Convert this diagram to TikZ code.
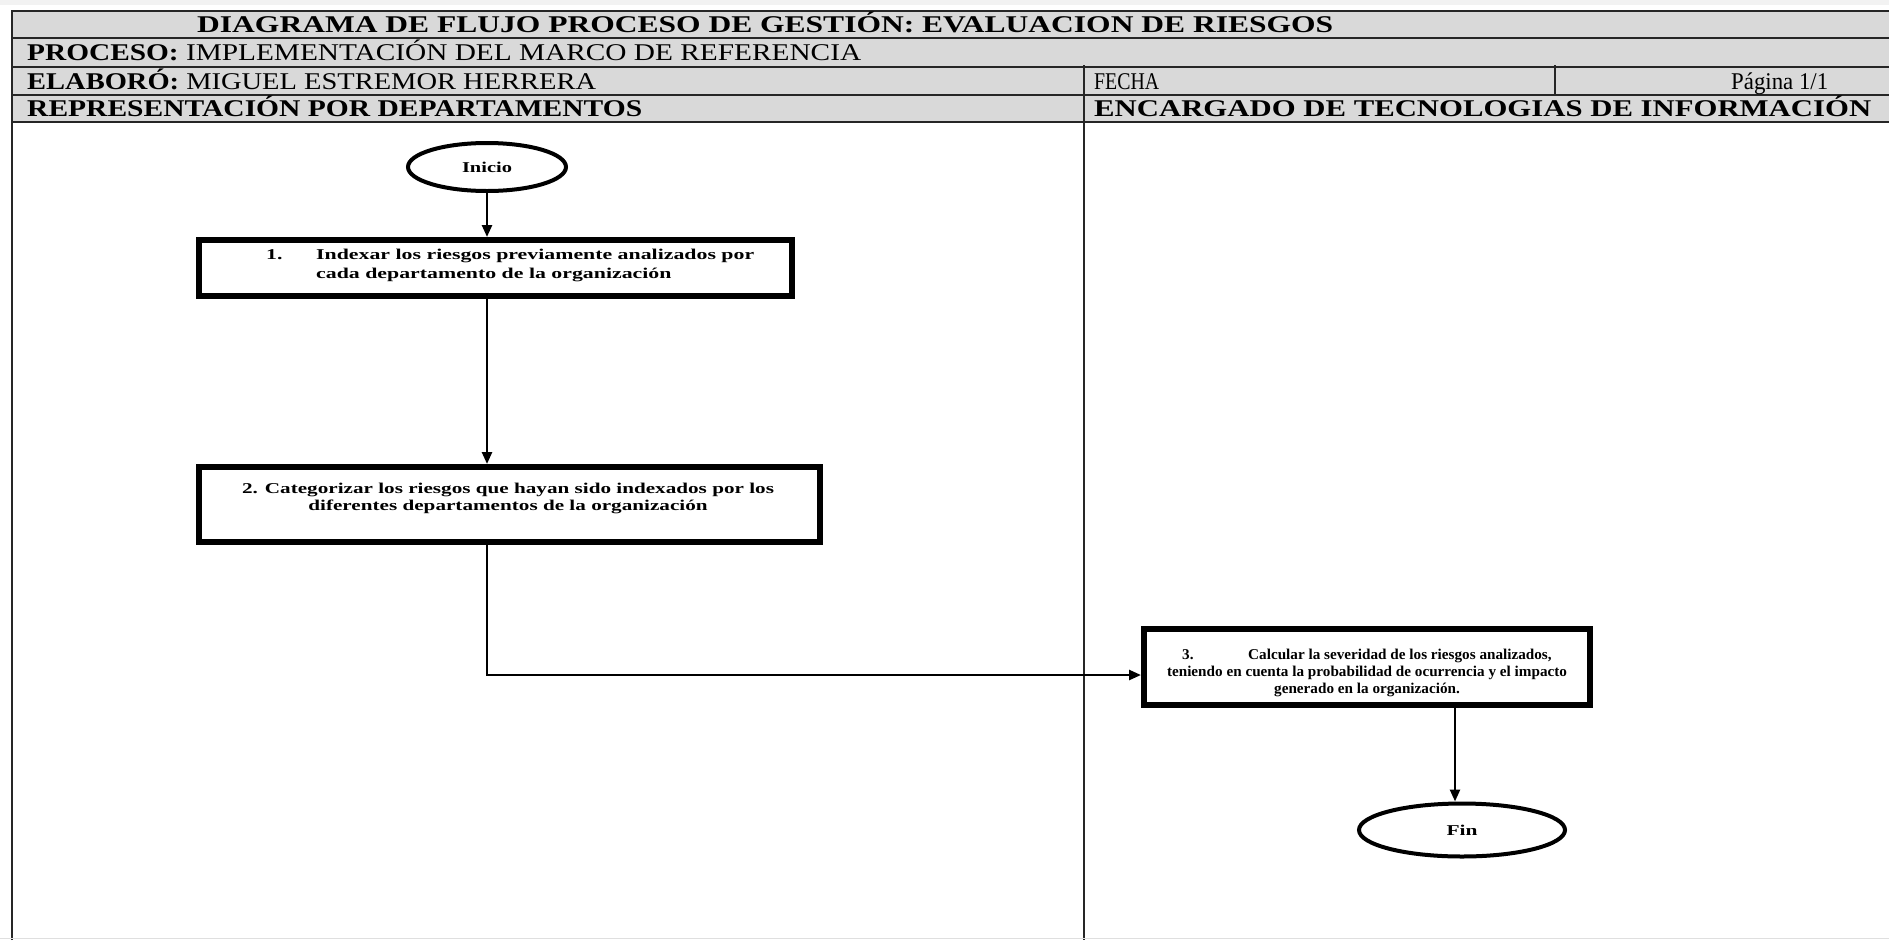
\documentclass[tikz,border=0pt]{standalone}
\usepackage{fontspec}
\usepackage{graphicx}
\setmainfont{Liberation Serif}
\usetikzlibrary{arrows.meta,shapes.geometric}
\newcommand{\fw}[2]{\resizebox{#1pt}{\height}{#2}}
\newlength{\refw}
\newcommand{\boxfont}{\fontsize{15}{18}\selectfont\bfseries}
% \setsx{macro}{target width}{reference line}
\newcommand{\setsx}[3]{\settowidth{\refw}{\boxfont #3}\pgfmathsetmacro{#1}{#2/\refw}}
\definecolor{hdrgray}{HTML}{D9D9D9}
\begin{document}
\setsx{\sxa}{438}{Indexar los riesgos previamente analizados por}%
\setsx{\sxb}{532}{2. Categorizar los riesgos que hayan sido indexados por los}%
\setsx{\sxc}{400}{teniendo en cuenta la probabilidad de ocurrencia y el impacto}%
\begin{tikzpicture}[x=1pt,y=-1pt,
  hdr/.style={inner sep=0pt, anchor=base west, font=\fontsize{24}{27}\selectfont},
  tbl/.style={line width=2pt, black!85},
  boxnode/.style={draw, line width=6pt, inner sep=0pt},
  term/.style={draw, ellipse, line width=4pt, inner sep=0pt, font=\boxfont},
  ftxt/.style={inner sep=0pt, anchor=base west, font=\boxfont},
  arr/.style={line width=2.5pt, -{Triangle[length=12pt,width=10pt]}}]
\useasboundingbox (0,0) rectangle (1889,940);
\fill[white] (0,0) rectangle (1889,940);
\fill[gray!10] (0,0) rectangle (1889,5);
% header
\fill[hdrgray] (12,11) rectangle (1889,122);
\draw[tbl] (12,940) -- (12,11) -- (1889,11);
\foreach \yy in {38,67,95,122} \draw[tbl] (12,\yy) -- (1889,\yy);
\draw[tbl] (1084,65) -- (1084,940);
\draw[tbl] (1555,65) -- (1555,95);
\draw[gray!25, line width=1pt] (0,938.5) -- (1889,938.5);
% header texts
\node[hdr] (title) at (197,32) {\fw{1136}{\textbf{DIAGRAMA DE FLUJO PROCESO DE GESTIÓN: EVALUACION DE RIESGOS}}};
\node[hdr] (proc) at (27,60) {\fw{834}{\textbf{PROCESO:} IMPLEMENTACIÓN DEL MARCO DE REFERENCIA}};
\node[hdr] (elab) at (27,89) {\fw{569}{\textbf{ELABORÓ:} MIGUEL ESTREMOR HERRERA}};
\node[hdr] (repr) at (27,116) {\fw{615}{\textbf{REPRESENTACIÓN POR DEPARTAMENTOS}}};
\node[hdr] (fecha) at (1094,89) {\fw{65}{FECHA}};
\node[hdr] (pag) at (1731,89) {\fw{97}{Página 1/1}};
\node[hdr] (enc) at (1094,116) {\fw{777}{\textbf{ENCARGADO DE TECNOLOGIAS DE INFORMACIÓN}}};
% flow nodes
\node[term, minimum width=158pt, minimum height=48pt] (ini) at (487,167) {\fw{50}{Inicio}};
\node[boxnode, minimum width=593pt, minimum height=56pt] (b1) at (495.5,268) {};
\node[boxnode, minimum width=621pt, minimum height=75pt] (b2) at (509.5,504.5) {};
\node[boxnode, minimum width=446pt, minimum height=76pt] (b3) at (1367,667) {};
\node[term, minimum width=206pt, minimum height=53pt] (fin) at (1462,830) {\fw{31}{Fin}};
% box texts
\node[ftxt] (b1n) at (266,259) {\scalebox{\sxa}[1]{1.}};
\node[ftxt] (b1a) at (316,259) {\scalebox{\sxa}[1]{Indexar los riesgos previamente analizados por}};
\node[ftxt] (b1b) at (316,278) {\scalebox{\sxa}[1]{cada departamento de la organización}};
\node[ftxt, anchor=base] (b2a) at (508,493) {\scalebox{\sxb}[1]{2. Categorizar los riesgos que hayan sido indexados por los}};
\node[ftxt, anchor=base] (b2b) at (508,510) {\scalebox{\sxb}[1]{diferentes departamentos de la organización}};
\node[ftxt] (b3n) at (1182,659) {\scalebox{\sxc}[1]{3.}};
\node[ftxt] (b3a) at (1248,659) {\scalebox{\sxc}[1]{Calcular la severidad de los riesgos analizados,}};
\node[ftxt, anchor=base] (b3b) at (1367,676) {\scalebox{\sxc}[1]{teniendo en cuenta la probabilidad de ocurrencia y el impacto}};
\node[ftxt, anchor=base] (b3c) at (1367,693) {\scalebox{\sxc}[1]{generado en la organización.}};
% connectors
\coordinate (b3in) at ([yshift=-8pt]b3.west);
\draw[arr] (ini.south) -- (ini.south |- b1.north);
\draw[arr] (b1.south -| ini.south) -- (b2.north -| ini.south);
\draw[arr] (b2.south -| ini.south) |- (b3in);
\draw[arr] (b3.south -| fin.north) ++(-7,0) coordinate (b3o) -- (b3o |- fin.north);
\end{tikzpicture}
\end{document}
